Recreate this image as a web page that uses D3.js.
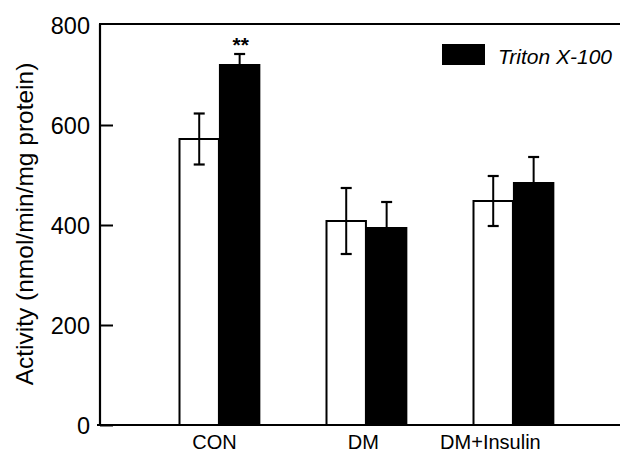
<!DOCTYPE html>
<html>
<head>
<meta charset="utf-8">
<script src="https://cdn.jsdelivr.net/npm/d3@7"></script>
<style>
  html, body { margin: 0; padding: 0; background: #fff; }
  svg { display: block; font-family: "Liberation Sans", Arial, Helvetica, sans-serif; }
</style>
</head>
<body>
<svg id="chart" width="622" height="459"></svg>
<script>
const categories = ["CON", "DM", "DM+Insulin"];
const seriesNames = ["Control", "Triton X-100"];
const controlValues = [572, 408, 448];
const controlErrors = [51, 66, 50];
const tritonValues = [720, 394, 484];
const tritonErrors = [22, 52, 52];
const significance = ["**", "", ""];
const yTicks = [0, 200, 400, 600, 800];
const yLabel = "Activity (nmol/min/mg protein)";

(function () {
const svg = d3.select("#chart");
const mLeft = 100, mRight = 620, mTop = 24, mBottom = 425;

const y = d3.scaleLinear().domain([0, 800]).range([mBottom, mTop + 1]);
const x = d3.scaleBand().domain(categories).range([105.5, 627.35]).paddingInner(0.45).paddingOuter(0.5);
const xs = d3.scaleBand().domain(seriesNames).range([0, x.bandwidth()]).padding(0);

const data = categories.map((c, i) => ({
  cat: c,
  vals: [
    { s: seriesNames[0], v: controlValues[i], e: controlErrors[i], fill: "#fff" },
    { s: seriesNames[1], v: tritonValues[i], e: tritonErrors[i], fill: "#000" }
  ],
  sig: significance[i]
}));

const g = svg.append("g");
const groups = g.selectAll("g.grp").data(data).enter().append("g")
  .attr("transform", d => `translate(${x(d.cat)},0)`);

groups.selectAll("g.err").data(d => d.vals).enter().append("g").each(function(d) {
  const cx = xs(d.s) + xs.bandwidth() / 2;
  const el = d3.select(this);
  el.append("line").attr("x1", cx).attr("x2", cx).attr("y1", y(d.v + d.e)).attr("y2", y(d.v - d.e))
    .attr("stroke", "#000").attr("stroke-width", 2);
  [d.v + d.e, d.v - d.e].forEach(v => {
    el.append("line").attr("x1", cx - 5.5).attr("x2", cx + 5.5).attr("y1", y(v)).attr("y2", y(v))
      .attr("stroke", "#000").attr("stroke-width", 2.2);
  });
});

groups.selectAll("rect").data(d => d.vals).enter().append("rect")
  .attr("x", d => xs(d.s) + 0.5)
  .attr("y", d => y(d.v))
  .attr("width", xs.bandwidth() - 1)
  .attr("height", d => y(0) - y(d.v))
  .attr("fill", d => d.fill)
  .attr("fill-opacity", d => d.fill === "#fff" ? 0 : 1)
  .attr("stroke", "#000")
  .attr("stroke-width", 2);

groups.filter(d => d.sig).append("text")
  .attr("x", xs(seriesNames[1]) + xs.bandwidth() / 2 + 1)
  .attr("y", d => y(d3.max(d.vals, v => v.v + v.e)) - 2)
  .attr("text-anchor", "middle")
  .attr("font-size", 21)
  .attr("font-weight", "bold")
  .text(d => d.sig);

const yAxis = d3.axisLeft(y).tickValues(yTicks).tickSizeInner(-13).tickSizeOuter(0).tickPadding(10);
const ya = svg.append("g").attr("transform", `translate(${mLeft},0)`).call(yAxis);
ya.select(".domain").attr("stroke-width", 2.2).attr("d", `M0,${mTop}V${mBottom + 1}`);
ya.selectAll(".tick line").attr("stroke-width", 2);
ya.selectAll(".tick text").attr("font-size", 23.5).attr("fill", "#000")
  .attr("font-family", "Liberation Sans, Arial, sans-serif").attr("dy", "0.36em");
ya.selectAll(".tick").filter(d => d === 800).select("line").remove();

svg.append("line").attr("x1", mLeft - 1).attr("x2", mRight).attr("y1", mTop).attr("y2", mTop)
  .attr("stroke", "#000").attr("stroke-width", 2.2);
svg.append("line").attr("x1", mLeft - 3).attr("x2", mRight).attr("y1", mBottom).attr("y2", mBottom)
  .attr("stroke", "#000").attr("stroke-width", 2.2);

const labelShift = { "CON": -5, "DM": -3, "DM+Insulin": -23 };
svg.append("g").selectAll("text").data(categories).enter().append("text")
  .attr("x", d => x(d) + x.bandwidth() / 2 + labelShift[d])
  .attr("y", 449)
  .attr("text-anchor", "middle")
  .attr("font-size", 20)
  .text(d => d);

svg.append("text")
  .attr("transform", `translate(33,224) rotate(-90)`)
  .attr("text-anchor", "middle")
  .attr("font-size", 24.5)
  .text(yLabel);

const leg = svg.append("g");
leg.append("rect").attr("x", 442).attr("y", 44).attr("width", 43).attr("height", 21).attr("fill", "#000");
leg.append("text").attr("x", 498).attr("y", 64).attr("font-size", 21).attr("font-style", "italic")
  .text(seriesNames[1]);
})();
</script>
</body>
</html>
